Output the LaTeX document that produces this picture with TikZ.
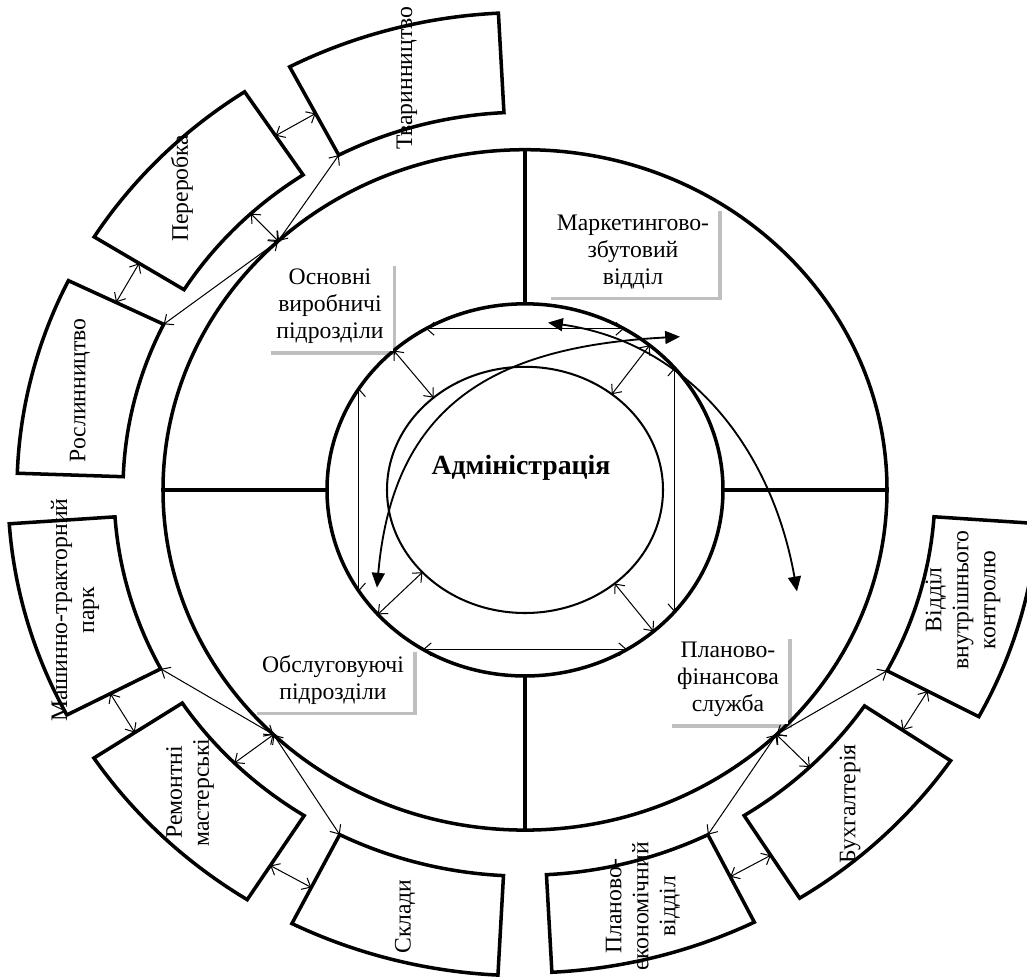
\documentclass[tikz,border=0pt]{standalone}
\usepackage{fontspec}
\setmainfont{Liberation Serif}
\usetikzlibrary{arrows.meta,shadows}

\tikzset{
  ring/.style={line width=1.9pt},
  seg/.style={line width=1.9pt, line join=miter},
  link/.style={line width=0.55pt, {Straight Barb[length=4pt,width=7pt]}-{Straight Barb[length=4pt,width=7pt]}},
  flow/.style={line width=1pt, {Triangle[length=8pt,width=7pt]}-{Triangle[length=8pt,width=7pt]}},
  tag/.style={fill=white, align=center, inner xsep=5pt, inner ysep=4pt,
    drop shadow={shadow xshift=2pt, shadow yshift=-2pt, opacity=0.25, fill=black}},
  unit/.style={rotate=90, align=center, inner sep=0pt}
}

\begin{document}
\begin{tikzpicture}[x=0.019cm, y=0.01786cm, font=\fontsize{12.8}{14.6}\selectfont]
        \useasboundingbox (-525,-518.1) rectangle (502,521.3);
        \clip (-525,-518.1) rectangle (502,521.3);

        \draw[ring] (0,0) circle (362);
        \draw[ring] (0,0) circle (198);
        \draw[line width=1.1pt] (0,0) ellipse [x radius=138, y radius=131];
        \draw[ring] (90:198) -- (90:362);
        \draw[ring] (270:198) -- (270:362);
        \draw[ring] (0:198) -- (0:362);
        \draw[ring] (180:198) -- (180:362);

        \node[font=\fontsize{15}{17}\selectfont\bfseries] (adm) at (-4,24) {Адміністрація};

        % square of links inside the middle ring
        \draw[link] (120:198) -- (60:198);
        \draw[link] (147:198) -- (213:198);
        \draw[link] (41:198) -- (-41:198);
        \draw[link] (239:198) -- (301:198);
        \draw[link] (131.5:198) -- (131.5:138 and 131);
        \draw[link] (51:198) -- (51:138 and 131);
        \draw[link] (222:198) -- (222:138 and 131);
        \draw[link] (310.5:198) -- (310.5:138 and 131);

        \coordinate (flowA1) at (23,178);
        \coordinate (flowA2) at (272,-108);
        \coordinate (flowB1) at (-148,-104);
        \coordinate (flowB2) at (155,163);
        \draw[flow] (flowA1) to[out=-8, in=100] (flowA2);
        \draw[flow] (flowB1) to[out=85, in=183, looseness=1.2] (flowB2);

        \node[tag] (vyr) at (-195,195) {Основні\\виробничі\\підрозділи};
        \node[tag] (mark) at (108,253) {Маркетингово-\\збутовий\\відділ};
        \node[tag] (obs) at (-192,-202) {Обслуговуючі\\підрозділи};
        \node[tag] (fin) at (203,-202) {Планово-\\фінансова\\служба};

        % outer units, top left
        \coordinate (hubVyr) at (133:362);
        \draw[seg] (154:402) arc[start angle=154, end angle=178, radius=402] -- (178:508) arc[start angle=178, end angle=154, radius=508] -- cycle;
        \draw[seg] (123.5:402) arc[start angle=123.5, end angle=148, radius=402] -- (148:508) arc[start angle=148, end angle=123.5, radius=508] -- cycle;
        \draw[seg] (93:402) arc[start angle=93, end angle=117.6, radius=402] -- (117.6:508) arc[start angle=117.6, end angle=93, radius=508] -- cycle;
        \draw[link] (hubVyr) -- (154:402);
        \draw[link] (hubVyr) -- (133:402);
        \draw[link] (hubVyr) -- (117.6:402);
        \draw[link] (154:455) -- (148:455);
        \draw[link] (123.5:452) -- (117.6:452);
        \node[unit] (rosl) at (-445,106) {Рослинництво};
        \node[unit] (pere) at (-343,321) {Переробка};
        \node[unit] (tvar) at (-118,438) {Тваринництво};

        % outer units, bottom left
        \coordinate (hubObs) at (226:362);
        \draw[seg] (184:411) arc[start angle=184, end angle=207.6, radius=411] -- (207.6:517) arc[start angle=207.6, end angle=184, radius=517] -- cycle;
        \draw[seg] (213.5:411) arc[start angle=213.5, end angle=237.5, radius=411] -- (237.5:517) arc[start angle=237.5, end angle=213.5, radius=517] -- cycle;
        \draw[seg] (243.2:411) arc[start angle=243.2, end angle=267, radius=411] -- (267:517) arc[start angle=267, end angle=243.2, radius=517] -- cycle;
        \draw[link] (hubObs) -- (207.6:411);
        \draw[link] (hubObs) -- (225:411);
        \draw[link] (hubObs) -- (243.2:411);
        \draw[link] (207.6:468) -- (213.5:468);
        \draw[link] (237.5:474) -- (243.2:474);
        \node[unit] (mtp) at (-450,-128) {Машинно-тракторний\\парк};
        \node[unit] (rem) at (-335,-322) {Ремонтні\\мастерські};
        \node[unit] (skl) at (-120,-454) {Склади};

        % outer units, bottom right
        \coordinate (hubFin) at (314:362);
        \draw[seg] (273:410) arc[start angle=273, end angle=296.5, radius=410] -- (296.5:514) arc[start angle=296.5, end angle=273, radius=514] -- cycle;
        \draw[seg] (302.3:410) arc[start angle=302.3, end angle=325.9, radius=410] -- (325.9:514) arc[start angle=325.9, end angle=302.3, radius=514] -- cycle;
        \draw[seg] (332:410) arc[start angle=332, end angle=356, radius=410] -- (356:514) arc[start angle=356, end angle=332, radius=514] -- cycle;
        \draw[link] (hubFin) -- (296.5:410);
        \draw[link] (hubFin) -- (314:410);
        \draw[link] (hubFin) -- (332:410);
        \draw[link] (296.5:460) -- (302.3:460);
        \draw[link] (325.9:456) -- (332:456);
        \node[unit] (pev) at (118,-443) {Планово-\\економічний\\відділ};
        \node[unit] (buh) at (325,-334) {Бухгалтерія};
        \node[unit] (vvk) at (438,-117) {Відділ\\внутрішнього\\контролю};
    \end{tikzpicture}
\end{document}
